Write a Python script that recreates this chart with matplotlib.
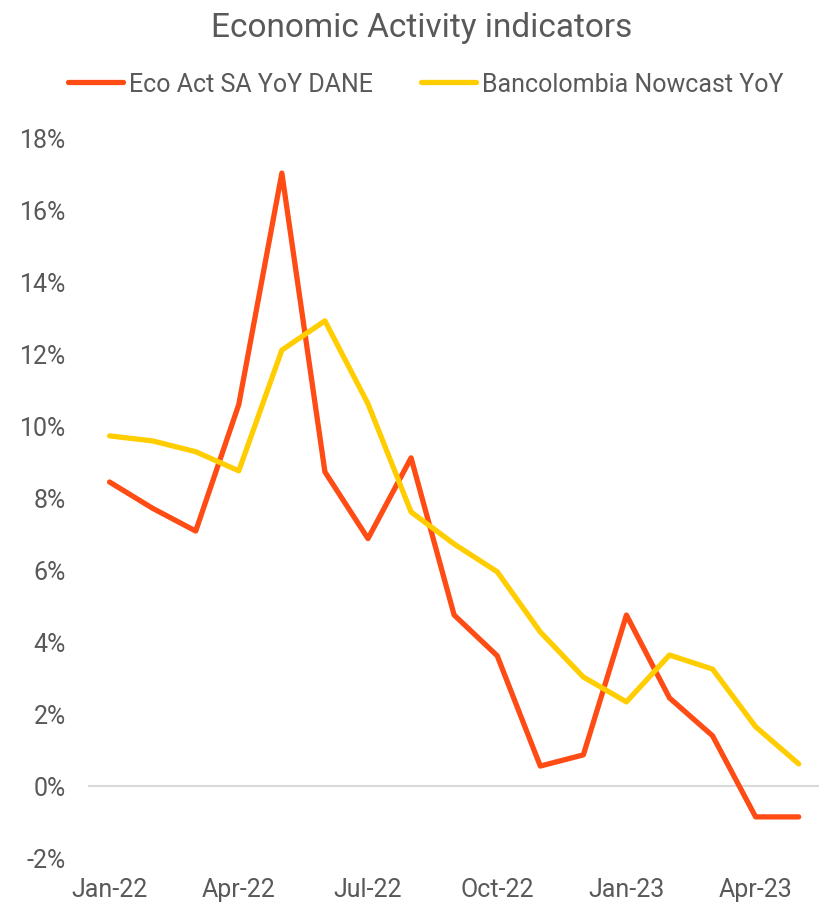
import matplotlib
matplotlib.use("Agg")
import matplotlib.pyplot as plt

plt.rcParams['font.family'] = ['Roboto', 'DejaVu Sans']

months = ["Jan-22", "Feb-22", "Mar-22", "Apr-22", "May-22", "Jun-22", "Jul-22", "Aug-22",
          "Sep-22", "Oct-22", "Nov-22", "Dec-22", "Jan-23", "Feb-23", "Mar-23", "Apr-23", "May-23"]
ecoAct = [8.43, 7.70, 7.07, 10.58, 17.00, 8.71, 6.86, 9.10, 4.74, 3.61, 0.55, 0.86, 4.74,
          2.44, 1.39, -0.86, -0.86]
nowcast = [9.71, 9.57, 9.27, 8.74, 12.09, 12.90, 10.60, 7.60, 6.71, 5.94, 4.27, 3.02, 2.33,
           3.63, 3.24, 1.64, 0.61]
yTicks = [-2, 0, 2, 4, 6, 8, 10, 12, 14, 16, 18]

grey = "#595959"
red = "#FF4B14"
yellow = "#FFCD00"

fig = plt.figure(figsize=(8.19, 9.04), dpi=100)
ax = fig.add_axes([0.1075, 0.0498, 0.894, 0.7975])

x = list(range(len(months)))
ax.plot(x, ecoAct, color=red, lw=3.8, solid_joinstyle="round", solid_capstyle="round",
        label="Eco Act SA YoY DANE", zorder=3)
ax.plot(x, nowcast, color=yellow, lw=3.8, solid_joinstyle="round", solid_capstyle="round",
        label="Bancolombia Nowcast YoY", zorder=3)

ax.axhline(0, color="#D9D9D9", lw=1.5, zorder=1)
ax.set_xlim(-0.5, len(months) - 0.5)
ax.set_ylim(-2, 18)
ax.set_yticks(yTicks)
ax.set_yticklabels([f"{t}%" for t in yTicks])
ax.set_xticks(x[::3])
ax.set_xticklabels(months[::3])
ax.tick_params(length=0, labelsize=18, colors=grey)
ax.tick_params(axis="x", pad=14)
ax.tick_params(axis="y", pad=16)
for s in ax.spines.values():
    s.set_visible(False)

fig.text(0.515, 0.969, "Economic Activity indicators", ha="center", va="center",
         fontsize=24, color=grey)
fig.legend(loc="center", bbox_to_anchor=(0.52, 0.906), ncol=2, frameon=False,
           fontsize=18, labelcolor=grey, handlelength=2.2, handletextpad=0.25,
           columnspacing=1.9)

fig.savefig("out.png", dpi=100)
